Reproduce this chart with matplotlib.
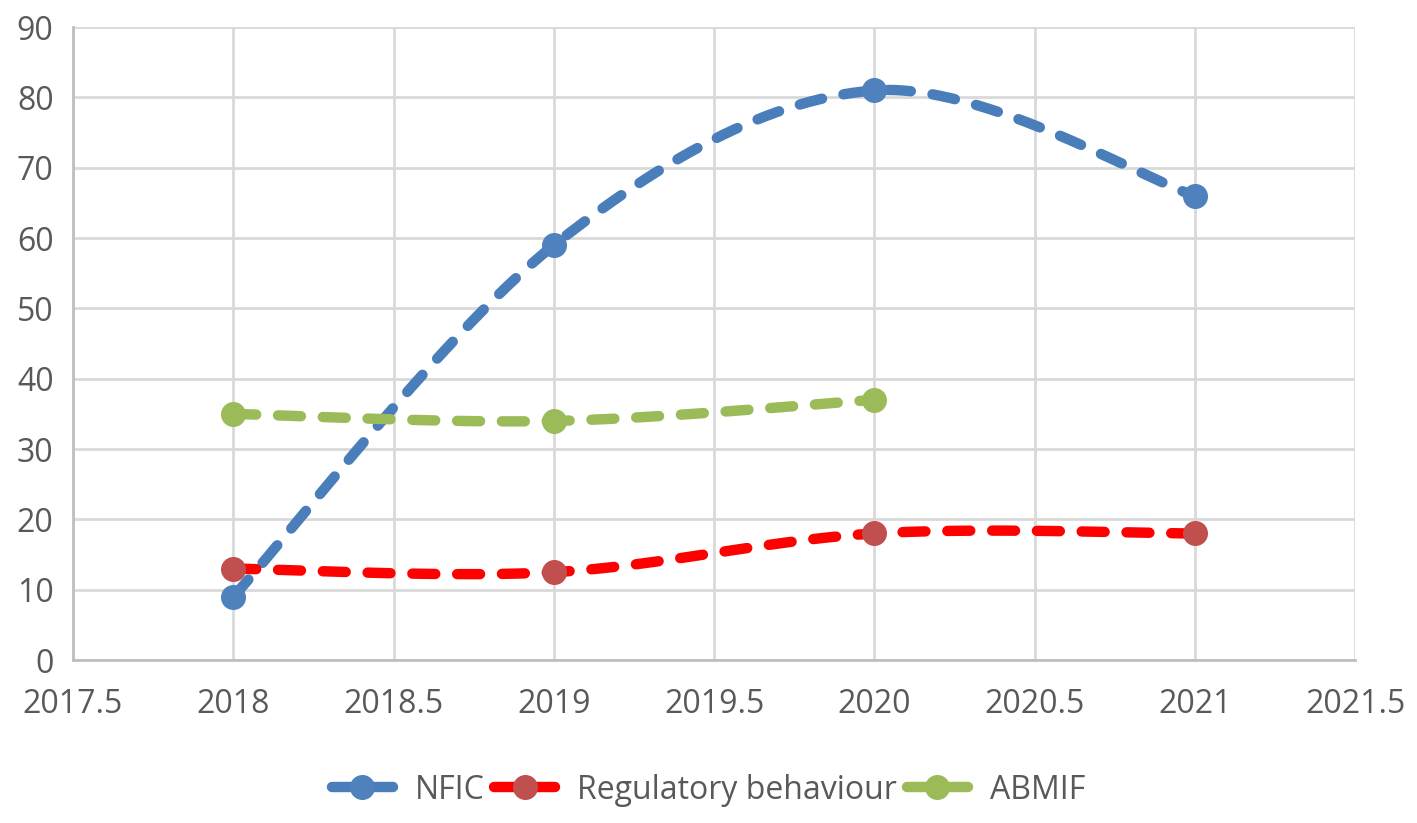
import numpy as np
import matplotlib.pyplot as plt
from matplotlib.lines import Line2D

years = [2018, 2019, 2020, 2021]
nfic = [9, 59, 81, 66]
regulatory = [13, 12.5, 18, 18]
abmif_years = [2018, 2019, 2020]
abmif = [35, 34, 37]

label_color = '#595959'
grid_color = '#d9d9d9'


def smooth_curve(xs, ys, steps=60):
    # Excel-style smoothed line: cubic bezier through the points,
    # control points from neighbour differences (catmull-rom, /6)
    pts = np.column_stack([xs, ys]).astype(float)
    n = len(pts)
    out = [pts[0]]
    t = np.linspace(0, 1, steps)[1:, None]
    for i in range(n - 1):
        p0 = pts[i - 1] if i > 0 else pts[i]
        p1 = pts[i]
        p2 = pts[i + 1]
        p3 = pts[i + 2] if i + 2 < n else pts[i + 1]
        c1 = p1 + (p2 - p0) / 6.0
        c2 = p2 - (p3 - p1) / 6.0
        seg = ((1 - t) ** 3) * p1 + 3 * ((1 - t) ** 2) * t * c1 + 3 * (1 - t) * t ** 2 * c2 + t ** 3 * p2
        out.extend(seg)
    out = np.array(out)
    return out[:, 0], out[:, 1]


fig = plt.figure(figsize=(14.17, 8.23), dpi=100)
ax = fig.add_axes([0.0515, 0.198, 0.905, 0.769])

series = [
    (years, nfic, '#4a7ebb', '#4f81bd', 'NFIC'),
    (years, regulatory, '#ff0000', '#c0504d', 'Regulatory behaviour'),
    (abmif_years, abmif, '#9bbb59', '#9bbb59', 'ABMIF'),
]

handles = []
for xs, ys, lc, mc, name in series:
    sx, sy = smooth_curve(xs, ys)
    ax.plot(sx, sy, color=lc, lw=7.5, dashes=(2.2, 2.1), dash_capstyle='round',
            solid_capstyle='round', zorder=3)
    ax.plot(xs, ys, 'o', color=mc, markersize=17, zorder=4)
    handles.append(Line2D([0], [0], color=lc, lw=7.5, solid_capstyle='round',
                          marker='o', markersize=17, markerfacecolor=mc,
                          markeredgecolor=mc, label=name))

ax.set_xlim(2017.5, 2021.5)
ax.set_ylim(0, 90)
ax.set_xticks(np.arange(2017.5, 2021.6, 0.5))
ax.set_xticklabels(['2017.5', '2018', '2018.5', '2019', '2019.5', '2020',
                    '2020.5', '2021', '2021.5'])
ax.set_yticks(np.arange(0, 91, 10))
ax.grid(True, color=grid_color, lw=2)
ax.set_axisbelow(True)
for side in ['top', 'right']:
    ax.spines[side].set_visible(False)
for side in ['left', 'bottom']:
    ax.spines[side].set_color('#bfbfbf')
    ax.spines[side].set_linewidth(2)
ax.tick_params(length=0, labelsize=23, colors=label_color)
ax.tick_params(axis='x', pad=20)
ax.tick_params(axis='y', pad=14)
for lab in ax.get_xticklabels() + ax.get_yticklabels():
    lab.set_fontfamily('Open Sans')

fig.legend(handles=handles, loc='center', bbox_to_anchor=(0.5, 0.04), ncol=3,
           frameon=False, handlelength=1.9, columnspacing=0.3, handletextpad=0.7,
           prop={'family': 'Open Sans', 'size': 23}, labelcolor=label_color)

fig.savefig('out.png', dpi=100)
